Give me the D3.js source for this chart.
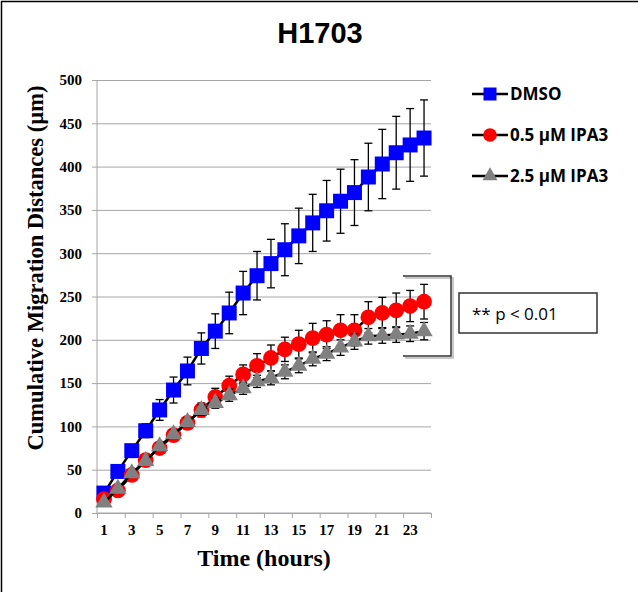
<!DOCTYPE html>
<html lang="en">
<head>
    <meta charset="UTF-8">
    <title>H1703</title>
    <script src="https://d3js.org/d3.v7.min.js"></script>
    <style>
        body {
            margin: 0;
            background-color: #fff;
        }
        .grid line, .grid path { stroke: #a6a6a6; }
        .tick-label text {
            font-family: "Liberation Serif", "Times New Roman", serif;
            font-weight: bold;
            font-size: 15px;
            fill: #000;
        }
        .legend text {
            font-family: "Open Sans", sans-serif;
            font-weight: bold;
            font-size: 17px;
        }
    </style>
</head>
<body>
    <svg id="chart" width="638" height="592"></svg>

    <script>
        // data
        const hours = [1, 2, 3, 4, 5, 6, 7, 8, 9, 10, 11, 12, 13, 14, 15, 16, 17, 18, 19, 20, 21, 22, 23, 24];
        const hourLabels = [1, 3, 5, 7, 9, 11, 13, 15, 17, 19, 21, 23];
        const yTicks = [0, 50, 100, 150, 200, 250, 300, 350, 400, 450, 500];

        const dmso = [23, 48, 72, 95, 119, 142, 164, 190, 210, 231, 254, 274, 288, 304, 320, 335, 349, 360, 370, 388, 403, 416, 425, 433];
        const dmsoErr = [4, 5, 6, 8, 12, 15, 16, 18, 20, 24, 25, 28, 28, 30, 32, 33, 35, 37, 38, 39, 40, 42, 42, 44];
        const ipa05 = [16, 26, 44, 61, 75, 90, 104, 119, 134, 147, 160, 170, 179, 189, 195, 202, 206, 211, 211, 226, 231, 234, 239, 244];
        const ipa05Err = [2, 3, 3, 4, 5, 6, 7, 8, 10, 11, 11, 14, 15, 14, 16, 17, 16, 18, 18, 18, 18, 20, 18, 20];
        const ipa25 = [12, 28, 46, 60, 77, 91, 105, 119, 127, 136, 144, 152, 156, 163, 170, 178, 184, 191, 198, 204, 205, 206, 207, 210];
        const ipa25Err = [2, 3, 3, 4, 4, 5, 5, 6, 6, 7, 7, 7, 8, 8, 8, 8, 8, 9, 9, 9, 9, 9, 9, 10];

        const seriesNames = ["DMSO", "0.5 \u00b5M IPA3", "2.5 \u00b5M IPA3"];
        const seriesValues = [dmso, ipa05, ipa25];
        const seriesErrors = [dmsoErr, ipa05Err, ipa25Err];
        const seriesColors = ["#0000ff", "#ff0000", "#808080"];
        const seriesShapes = [d3.symbolSquare, d3.symbolCircle, d3.symbolTriangle];
        const markerSizes = [225, 195, 130];

        const svg = d3.select("#chart");

        // frame (top and left edges visible)
        svg.append("line").attr("x1", 1).attr("x2", 638).attr("y1", 1.5).attr("y2", 1.5)
            .attr("stroke", "#000").attr("stroke-width", 1.5);
        svg.append("line").attr("x1", 1.5).attr("x2", 1.5).attr("y1", 1).attr("y2", 592)
            .attr("stroke", "#000").attr("stroke-width", 1.5);

        const plotL = 97, plotR = 431, plotT = 80, plotB = 513;

        const x = d3.scaleBand().domain(hours).range([plotL, plotR]);
        const xEdge = d3.scaleLinear().domain([0, 24]).range([plotL, plotR]);
        const y = d3.scaleLinear().domain([0, 500]).range([plotB, plotT]);

        // title
        svg.append("text")
            .attr("x", 320).attr("y", 43)
            .attr("text-anchor", "middle")
            .style("font-family", "'Liberation Sans', Arial, sans-serif")
            .style("font-weight", "bold")
            .style("font-size", "29px")
            .text("H1703");

        // horizontal grid + y axis
        svg.append("g")
            .attr("class", "grid tick-label")
            .attr("transform", `translate(${plotL},0)`)
            .call(d3.axisLeft(y).tickValues(yTicks).tickSize(5).tickPadding(10))
            .call(g => g.select(".domain").remove())
            .call(g => g.selectAll(".tick").append("line")
                .attr("x2", plotR - plotL).attr("stroke", "#a6a6a6"));

        svg.append("line")
            .attr("x1", plotL).attr("x2", plotL).attr("y1", plotT).attr("y2", plotB)
            .attr("stroke", "#a6a6a6");

        // x axis: tick marks every 2 hours, labels on odd hours
        svg.append("g")
            .attr("class", "grid")
            .attr("transform", `translate(0,${plotB})`)
            .call(d3.axisBottom(xEdge).tickValues(d3.range(0, 25, 2)).tickSize(5).tickFormat(""))
            .call(g => g.select(".domain").attr("d", `M${plotL},0H${plotR}`));

        svg.append("g")
            .attr("class", "tick-label")
            .attr("transform", `translate(0,${plotB})`)
            .call(d3.axisBottom(x).tickValues(hourLabels).tickSize(0).tickPadding(11))
            .call(g => g.select(".domain").remove());

        // axis titles
        svg.append("text")
            .attr("transform", "translate(43,268) rotate(-90)")
            .attr("text-anchor", "middle")
            .style("font-family", "'Liberation Serif', 'Times New Roman', serif")
            .style("font-weight", "bold")
            .style("font-size", "22.5px")
            .text("Cumulative Migration Distances (\u00b5m)");

        svg.append("text")
            .attr("x", 264).attr("y", 566)
            .attr("text-anchor", "middle")
            .style("font-family", "'Liberation Serif', 'Times New Roman', serif")
            .style("font-weight", "bold")
            .style("font-size", "24px")
            .text("Time (hours)");

        const cx = h => x(h) + x.bandwidth() / 2;
        const line = d3.line().x((d, i) => cx(hours[i])).y(d => y(d));

        seriesValues.forEach((vals, s) => {
            const g = svg.append("g");
            const errs = seriesErrors[s];

            // error bars
            const eb = g.selectAll(".err").data(vals).enter().append("g")
                .attr("stroke", "#000").attr("stroke-width", 1.3);
            eb.append("line")
                .attr("x1", (d, i) => cx(hours[i])).attr("x2", (d, i) => cx(hours[i]))
                .attr("y1", (d, i) => y(d + errs[i])).attr("y2", (d, i) => y(d - errs[i]));
            eb.append("line")
                .attr("x1", (d, i) => cx(hours[i]) - 4).attr("x2", (d, i) => cx(hours[i]) + 4)
                .attr("y1", (d, i) => y(d + errs[i])).attr("y2", (d, i) => y(d + errs[i]));
            eb.append("line")
                .attr("x1", (d, i) => cx(hours[i]) - 4).attr("x2", (d, i) => cx(hours[i]) + 4)
                .attr("y1", (d, i) => y(d - errs[i])).attr("y2", (d, i) => y(d - errs[i]));

            g.append("path")
                .datum(vals)
                .attr("fill", "none")
                .attr("stroke", "#000")
                .attr("stroke-width", 2.5)
                .attr("d", line);

            g.selectAll(".mark").data(vals).enter().append("path")
                .attr("transform", (d, i) => `translate(${cx(hours[i])},${y(d)})`)
                .attr("d", d3.symbol().type(seriesShapes[s]).size(markerSizes[s]))
                .attr("fill", seriesColors[s]);
        });

        // legend
        const legend = svg.append("g").attr("class", "legend");
        seriesNames.forEach((name, s) => {
            const ly = 94 + s * 41;
            legend.append("line")
                .attr("x1", 472).attr("x2", 508).attr("y1", ly).attr("y2", ly)
                .attr("stroke", "#000").attr("stroke-width", 2.5);
            legend.append("path")
                .attr("transform", `translate(490,${ly})`)
                .attr("d", d3.symbol().type(seriesShapes[s]).size(markerSizes[s] * 0.75))
                .attr("fill", seriesColors[s]);
            legend.append("text")
                .attr("x", 510).attr("y", ly + 6)
                .text(name);
        });

        // significance bracket and note
        svg.append("path")
            .attr("d", "M405,278H453V358H405")
            .attr("fill", "none").attr("stroke", "#c8c8c8").attr("stroke-width", 2);
        svg.append("path")
            .attr("d", "M403,276H451V356H403")
            .attr("fill", "none").attr("stroke", "#333").attr("stroke-width", 1.5);

        svg.append("rect")
            .attr("x", 459).attr("y", 293).attr("width", 138).attr("height", 40)
            .attr("fill", "#fff").attr("stroke", "#333").attr("stroke-width", 1.5);
        svg.append("text")
            .attr("x", 472).attr("y", 320)
            .style("font-family", "'Open Sans', sans-serif")
            .style("font-size", "17px")
            .text("** p < 0.01");
    </script>
</body>
</html>
